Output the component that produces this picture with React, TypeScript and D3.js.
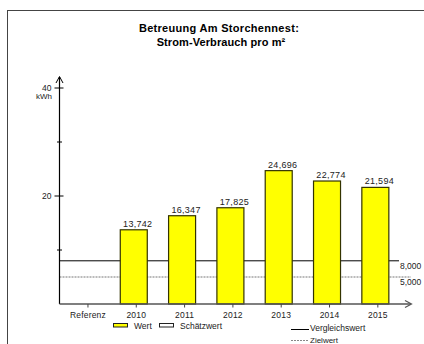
import * as d3 from 'd3';
import React from 'react';

// categories and values
const categories = ['Referenz', '2010', '2011', '2012', '2013', '2014', '2015'];
const values: (number | null)[] = [null, 13.742, 16.347, 17.825, 24.696, 22.774, 21.594];
const vergleichswert = 8;
const zielwert = 5;
const majorTicks = [20, 40];
const minorTicks = [10, 30];

const W = 424;
const H = 344;
const font = 'Arial, "Liberation Sans", sans-serif';

const de = d3.formatLocale({ decimal: ',', thousands: '.', grouping: [3], currency: ['', '€'] });
const fmt = de.format('.3f');

const App = () => {
  const axisX = 59.5;
  const y = d3.scaleLinear().domain([0, 40]).range([304, 88]);
  const x = d3.scaleBand().domain(categories).range([63.8, 402]).padding(0);
  const step = x.step();
  const cx = (c: string) => (x(c) ?? 0) + step / 2;
  const barW = 27;
  const base = y(0);

  return (
    <svg width={W} height={H} style={{ position: 'absolute', left: 0, top: 0 }}>
      <rect width={W} height={H} fill="#fff" />
      <rect x={7.5} y={10.5} width={460} height={400} fill="none" stroke="#444" strokeWidth={1} />

      {/* title */}
      <text x={219} y={32} textAnchor="middle" fontFamily={font} fontSize={11} fontWeight="bold" letterSpacing={0.3}>
        Betreuung Am Storchennest:
      </text>
      <text x={221} y={46} textAnchor="middle" fontFamily={font} fontSize={11} fontWeight="bold" letterSpacing={0.1}>
        Strom-Verbrauch pro m²
      </text>

      {/* reference lines */}
      <line x1={axisX} x2={399} y1={y(vergleichswert)} y2={y(vergleichswert)} stroke="#000" strokeWidth={1} />
      <line x1={axisX} x2={411} y1={y(zielwert)} y2={y(zielwert)} stroke="#777" strokeWidth={1} strokeDasharray="2,1" />
      <text x={400} y={y(vergleichswert) + 8} fontFamily={font} fontSize={8.5} fill="#222">{fmt(vergleichswert)}</text>
      <text x={400} y={y(zielwert) + 8} fontFamily={font} fontSize={8.5} fill="#222">{fmt(zielwert)}</text>

      {/* bars */}
      {categories.map((c, i) => {
        const v = values[i];
        if (v == null) return null;
        return (
          <g key={c}>
            <rect x={cx(c) - 16} y={y(v)} width={barW} height={base - y(v)} fill="#ffff00" stroke="#333300" strokeWidth={1.2} />
            <text x={cx(c) + 1.5} y={y(v) - 3} textAnchor="middle" fontFamily={font} fontSize={9} fill="#222" letterSpacing={0.3}>
              {fmt(v)}
            </text>
          </g>
        );
      })}

      {/* y axis */}
      <line x1={axisX} x2={axisX} y1={base} y2={77} stroke="#000" strokeWidth={1.2} />
      <path d={`M${axisX - 3.5},${83} L${axisX},${76.5} L${axisX + 3.5},${83}`} fill="none" stroke="#000" strokeWidth={1} />
      {majorTicks.map(t => (
        <g key={t}>
          <line x1={axisX - 5} x2={axisX + 4} y1={y(t)} y2={y(t)} stroke="#000" />
          <text x={51.5} y={y(t) + 3} textAnchor="end" fontFamily={font} fontSize={8.5} fill="#222">{t}</text>
        </g>
      ))}
      {minorTicks.map(t => (
        <line key={t} x1={axisX - 2.5} x2={axisX + 2.5} y1={y(t)} y2={y(t)} stroke="#000" />
      ))}
      <text x={52} y={y(40) + 11} textAnchor="end" fontFamily={font} fontSize={8} fill="#222">kWh</text>

      {/* x axis */}
      <line x1={axisX} x2={411} y1={base} y2={base} stroke="#555" strokeWidth={1.6} />
      <path d={`M405,${base - 3.5} L411.5,${base} L405,${base + 3.5}`} fill="none" stroke="#555" strokeWidth={1.2} />
      {categories.map(c => (
        <g key={c}>
          <line x1={cx(c)} x2={cx(c)} y1={base} y2={base + 3.5} stroke="#444" />
          <text x={cx(c)} y={318} textAnchor="middle" fontFamily={font} fontSize={8.5} fill="#222" letterSpacing={0.2}>{c}</text>
        </g>
      ))}

      {/* legend */}
      <rect x={113.5} y={323.5} width={14} height={3.5} fill="#ffff00" stroke="#222" strokeWidth={1} />
      <text x={134} y={328.5} fontFamily={font} fontSize={8.5} fill="#222">Wert</text>
      <rect x={159.5} y={323.5} width={14} height={3.5} fill="#ffffff" stroke="#222" strokeWidth={1} />
      <text x={180} y={328.5} fontFamily={font} fontSize={8.5} fill="#222">Schätzwert</text>
      <line x1={291} x2={309} y1={329.5} y2={329.5} stroke="#000" strokeWidth={1} />
      <text x={310} y={331} fontFamily={font} fontSize={8.5} fill="#222">Vergleichswert</text>
      <line x1={291} x2={309} y1={340.5} y2={340.5} stroke="#888" strokeWidth={1} strokeDasharray="2,1" />
      <text x={310} y={342.5} fontFamily={font} fontSize={8} fill="#222">Zielwert</text>
    </svg>
  );
};

export default App;
